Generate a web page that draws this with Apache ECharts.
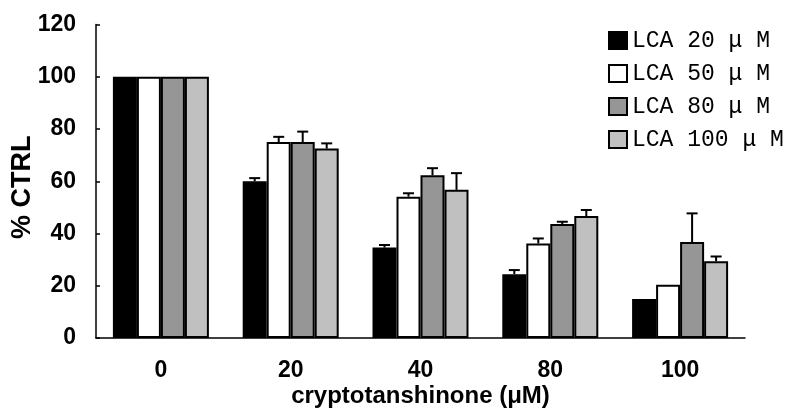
<!DOCTYPE html>
<html>
<head>
<meta charset="utf-8">
<script src="https://cdn.jsdelivr.net/npm/echarts@6/dist/echarts.min.js"></script>
<style>html,body{margin:0;padding:0;background:#fff}#c{width:790px;height:410px}</style>
</head>
<body>
<div id="c"></div>
<script>
var categories = ['0', '20', '40', '80', '100'];
var seriesNames = ['LCA 20 \u03bc M', 'LCA 50 \u03bc M', 'LCA 80 \u03bc M', 'LCA 100 \u03bc M'];
var lca20 = [100, 60, 34.6, 24.4, 14.9];
var lca50 = [100, 75, 54.1, 36.2, 20.4];
var lca80 = [100, 75, 62.3, 43.6, 36.7];
var lca100 = [100, 72.5, 56.7, 46.7, 29.4];
var err20 = [0, 1.2, 1.0, 1.6, 0];
var err50 = [0, 2.0, 1.3, 1.9, 0];
var err80 = [0, 4.0, 2.7, 0.9, 11];
var err100 = [0, 2.0, 6.4, 2.3, 1.8];
var yTicks = [0, 20, 40, 60, 80, 100, 120];

var values = [lca20, lca50, lca80, lca100];
var errs = [err20, err50, err80, err100];
var colors = ['#000000', '#ffffff', '#969696', '#c0c0c0'];
var BAR_W = 24;

var chart = echarts.init(document.getElementById('c'), null, {renderer: 'canvas'});
var series = [];
values.forEach(function (v, i) {
  series.push({
    name: seriesNames[i],
    type: 'bar',
    data: v,
    barWidth: BAR_W,
    barGap: '0%',
    itemStyle: {color: colors[i], borderColor: '#000', borderWidth: 2},
    emphasis: {disabled: true},
    z: 2
  });
});
values.forEach(function (v, i) {
  var data = v.map(function (val, k) { return [k, val, errs[i][k]]; });
  series.push({
    type: 'custom',
    silent: true,
    z: 3,
    data: data,
    renderItem: function (params, api) {
      var e = api.value(2);
      if (!e) return null;
      var top = api.coord([api.value(0), api.value(1)]);
      var hi = api.coord([api.value(0), api.value(1) + e]);
      var x = top[0] + (i - 1.5) * BAR_W;
      var cap = 5.5;
      var st = {stroke: '#000', lineWidth: 2};
      return {
        type: 'group',
        children: [
          {type: 'line', shape: {x1: x, y1: top[1], x2: x, y2: hi[1]}, style: st},
          {type: 'line', shape: {x1: x - cap, y1: hi[1], x2: x + cap, y2: hi[1]}, style: st}
        ]
      };
    }
  });
});

chart.setOption({
  animation: false,
  backgroundColor: '#fff',
  textStyle: {fontFamily: 'Liberation Sans'},
  grid: {left: 96, right: 45, top: 24.5, bottom: 72, containLabel: false, outerBoundsMode: 'none'},
  legend: {
    data: seriesNames,
    orient: 'vertical',
    left: 603,
    top: 24,
    icon: 'rect',
    itemWidth: 18,
    itemHeight: 17,
    itemGap: 10,
    selectedMode: false,
    textStyle: {fontFamily: 'Liberation Mono', fontSize: 23, lineHeight: 23, color: '#000'}
  },
  xAxis: {
    type: 'category',
    data: categories,
    axisLine: {lineStyle: {color: '#000', width: 1.5}},
    axisTick: {inside: true, length: 5, lineStyle: {color: '#000', width: 1.5}},
    axisLabel: {color: '#000', fontSize: 23, fontWeight: 'bold', margin: 21},
    name: 'cryptotanshinone (\u03bcM)',
    nameLocation: 'middle',
    nameGap: 46,
    nameMoveOverlap: false,
    nameTextStyle: {color: '#000', fontSize: 24, fontWeight: 'bold'}
  },
  yAxis: {
    type: 'value',
    min: yTicks[0],
    max: yTicks[yTicks.length - 1],
    interval: 20,
    splitLine: {show: false},
    axisLine: {show: true, lineStyle: {color: '#000', width: 1.5}},
    axisTick: {show: true, inside: true, length: 4, lineStyle: {color: '#000', width: 1.5}},
    axisLabel: {color: '#000', fontSize: 23, fontWeight: 'bold', margin: 20},
    name: '% CTRL',
    nameLocation: 'middle',
    nameRotate: 90,
    nameGap: 60,
    nameMoveOverlap: false,
    nameTextStyle: {color: '#000', fontSize: 27, fontWeight: 'bold', padding: [0, 12, 0, 0]}
  },
  series: series
});
</script>
</body>
</html>
